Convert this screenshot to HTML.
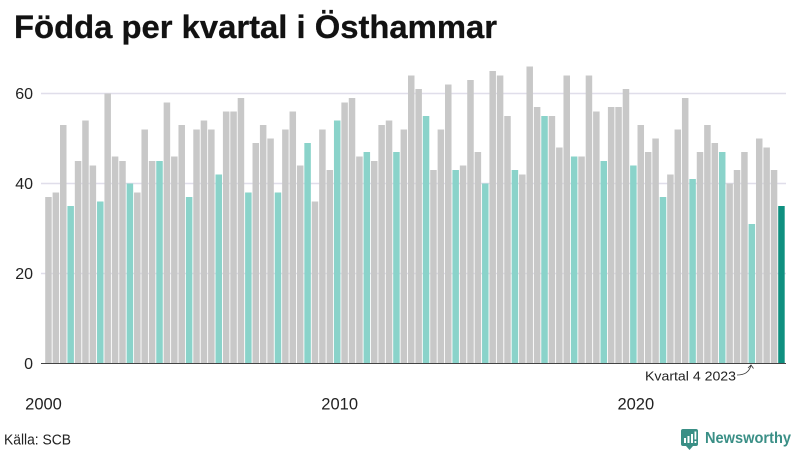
<!DOCTYPE html>
<html lang="sv">
<head>
<meta charset="utf-8">
<title>Födda per kvartal i Östhammar</title>
<style>
html,body{margin:0;padding:0;background:#fff;}
svg{display:block;font-family:"Liberation Sans",sans-serif;}
</style>
</head>
<body>
<svg id="chart" xmlns="http://www.w3.org/2000/svg" width="800" height="450" viewBox="0 0 800 450">
  <rect x="0" y="0" width="800" height="450" fill="#ffffff"/>
  <text x="14" y="38" font-size="32" font-weight="700" fill="#121212" stroke="#121212" stroke-width="0.3" textLength="483" lengthAdjust="spacingAndGlyphs">Födda per kvartal i Östhammar</text>
  <g id="grid"></g>
  <g id="bars"></g>
  <g id="yticks"></g>
  <g id="xticks"></g>
  <line x1="41" x2="786" y1="363.5" y2="363.5" stroke="#444444" stroke-width="1"/>
  <text x="645" y="380.500" font-size="13" fill="#222222" textLength="91" lengthAdjust="spacingAndGlyphs">Kvartal 4 2023</text>
  <path d="M737 375 C745 375 749 372 751 365.5 M748 368 L751 365 L753.5 368.5" fill="none" stroke="#333333" stroke-width="0.8"/>
  <text x="4" y="444.500" font-size="15" fill="#222222" textLength="67" lengthAdjust="spacingAndGlyphs">Källa: SCB</text>
  <g>
    <path d="M683 429 H696 Q698 429 698 431 V444 Q698 446 696 446 H693 L689.5 450 L686 446 H683 Q681 446 681 444 V431 Q681 429 683 429 Z" fill="#3a8f86"/>
    <rect x="684" y="438" width="2" height="5" fill="#ffffff"/>
    <rect x="687.5" y="436" width="2" height="7" fill="#ffffff"/>
    <rect x="691" y="434" width="2" height="9" fill="#ffffff"/>
    <rect x="694.5" y="431.500" width="1.800" height="8" fill="#ffffff"/>
    <rect x="694.5" y="441" width="1.800" height="2" fill="#ffffff"/>
    <text x="705" y="443" font-size="15.500" font-weight="700" fill="#3a8f86" textLength="86" lengthAdjust="spacingAndGlyphs">Newsworthy</text>
  </g>
</svg>
<script>
const years = [2000,2001,2002,2003,2004,2005,2006,2007,2008,2009,2010,2011,2012,2013,2014,2015,2016,2017,2018,2019,2020,2021,2022,2023,2024];
const quarters = [1,2,3,4];
const births = [
  37,38,53,35, 45,54,44,36, 60,46,45,40, 38,52,45,45, 58,46,53,37,
  52,54,52,42, 56,56,59,38, 49,53,50,38, 52,56,44,49, 36,52,43,54,
  58,59,46,47, 45,53,54,47, 52,64,61,55, 43,52,62,43, 44,63,47,40,
  65,64,55,43, 42,66,57,55, 55,48,64,46, 46,64,56,45, 57,57,61,44,
  53,47,50,37, 42,52,59,41, 47,53,49,47, 40,43,47,31, 50,48,43,35
];
const yTickValues = [0,20,40,60];
const xTickYears = [2000,2010,2020];

const NS = 'http://www.w3.org/2000/svg';
const plotLeft = 45, plotRight = 785.4, plotBottom = 363.5, unitHeight = 4.5;
const step = (plotRight - plotLeft) / births.length;
function xScale(i){ return plotLeft + i * step; }
function yScale(v){ return plotBottom - v * unitHeight; }

const grid = document.getElementById('grid');
const yticks = document.getElementById('yticks');
yTickValues.forEach(function(v){
  if (v !== 0) {
    const gl = document.createElementNS(NS,'line');
    
    
    gl.setAttribute('x1', 41);
    gl.setAttribute('x2', 786);
    gl.setAttribute('y1', yScale(v));
    gl.setAttribute('y2', yScale(v));
    gl.setAttribute('stroke', '#e0deea');
    gl.setAttribute('stroke-width', '1.5');
    grid.appendChild(gl);
  }
  const t = document.createElementNS(NS,'text');
  
  
  t.setAttribute('x', 33);
  t.setAttribute('y', yScale(v) + 5.5);
  t.setAttribute('text-anchor', 'end');
  t.setAttribute('font-size', '16');
  t.setAttribute('fill', '#222222');
  t.textContent = v;
  yticks.appendChild(t);
});

const barsG = document.getElementById('bars');
births.forEach(function(v, i){
  const r = document.createElementNS(NS,'rect');
  const isQ4 = quarters[i % quarters.length] === 4;
  const isLast = i === births.length - 1;
  
  
  r.setAttribute('x', xScale(i) + 0.2);
  r.setAttribute('y', yScale(v));
  r.setAttribute('width', step - 0.9);
  r.setAttribute('height', plotBottom - yScale(v));
  r.setAttribute('fill', isLast ? '#0f9080' : (isQ4 ? '#8ad3ca' : '#c8c8c8'));
  barsG.appendChild(r);
});

const xticks = document.getElementById('xticks');
xTickYears.forEach(function(y){
  const idx = years.indexOf(y) * quarters.length;
  const t = document.createElementNS(NS,'text');
  
  
  t.setAttribute('x', xScale(idx) - 1.5);
  t.setAttribute('y', 409.5);
  t.setAttribute('text-anchor', 'middle');
  t.setAttribute('font-size', '16.5');
  t.setAttribute('fill', '#222222');
  t.textContent = y;
  xticks.appendChild(t);
});
</script>
</body>
</html>
